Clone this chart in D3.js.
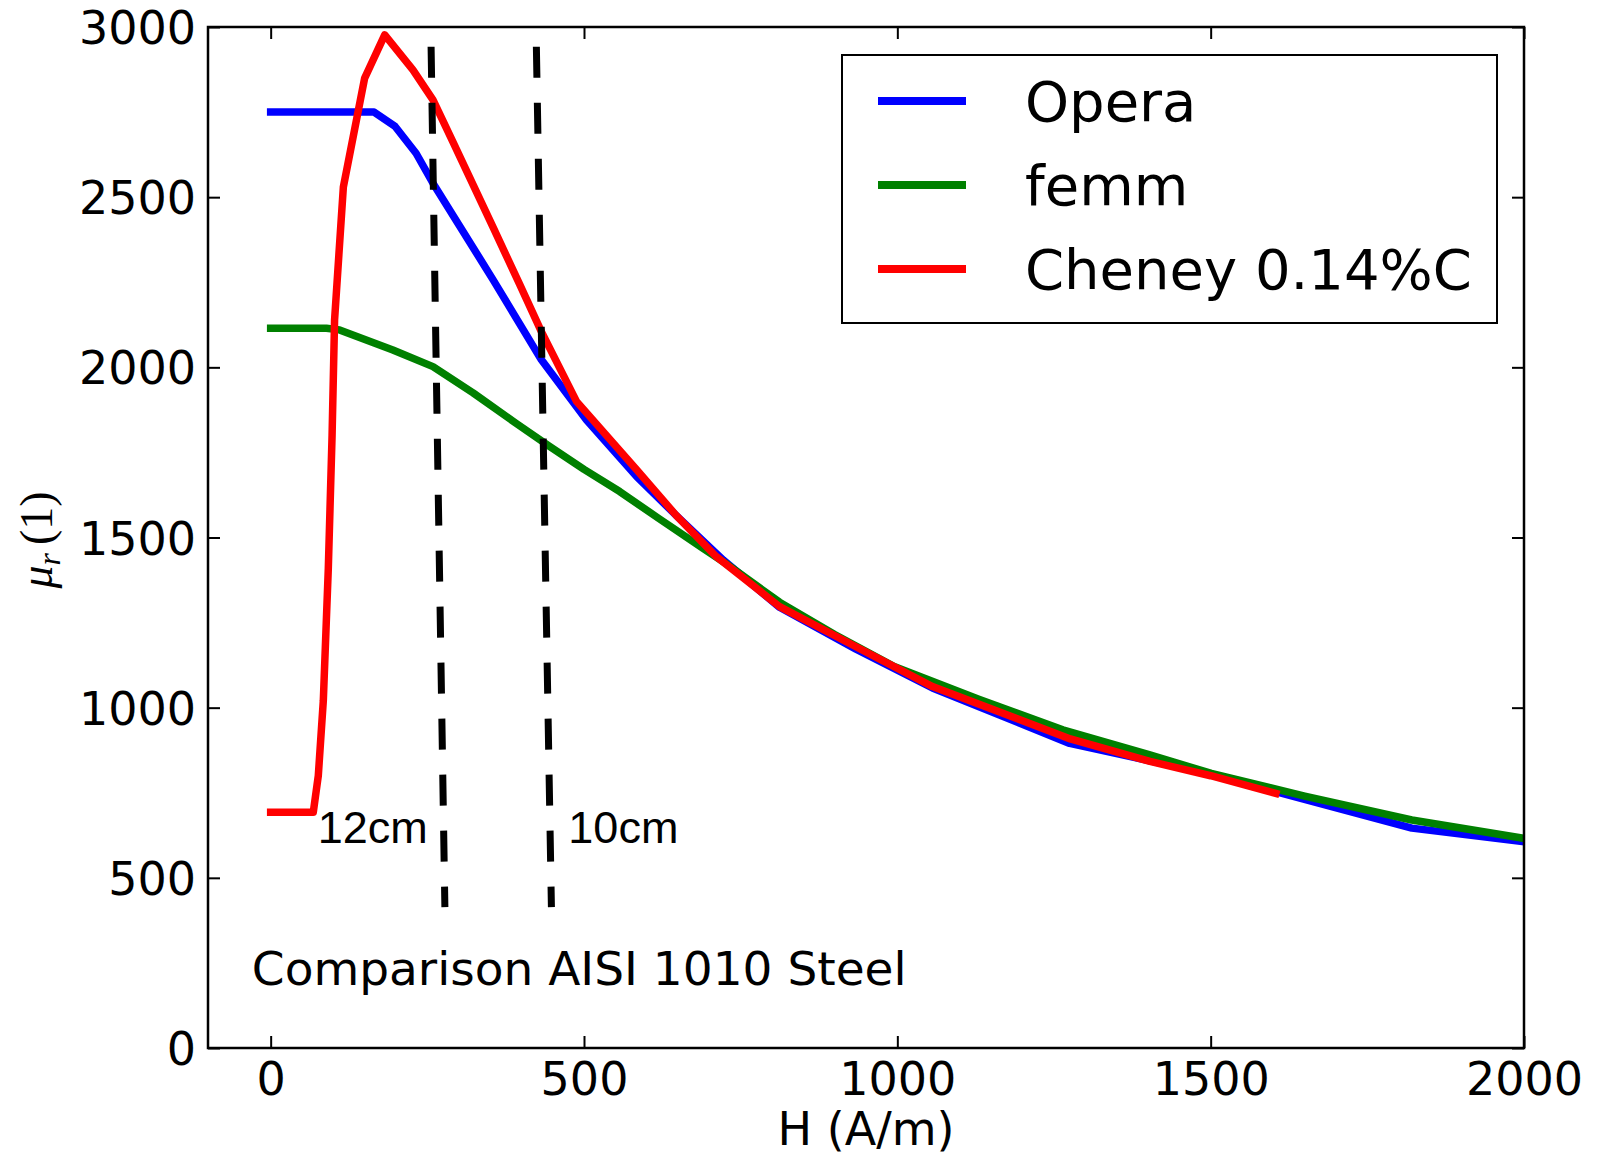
<!DOCTYPE html>
<html>
<head>
<meta charset="utf-8">
<script src="https://cdn.jsdelivr.net/npm/d3@7"></script>
<style>
  body { margin: 0; background: #fff; }
  text { font-family: "DejaVu Sans", sans-serif; fill: #000; }
</style>
</head>
<body>
<svg></svg>
<script>
// series
const operaH  = [0, 165, 198, 232, 259, 300, 355, 432, 504, 584, 647, 722, 812, 934, 1056, 1275, 1500, 1821, 2000];
const operaMu = [2750, 2750, 2709, 2629, 2541, 2420, 2257, 2022, 1845, 1679, 1565, 1434, 1295, 1172, 1058, 895, 805, 646, 606];

const femmH  = [0, 89, 110, 195, 259, 323, 392, 445, 500, 557, 620, 690, 726, 812, 900, 995, 1130, 1264, 1403, 1501, 1650, 1821, 2000];
const femmMu = [2115, 2115, 2110, 2051, 2002, 1925, 1835, 1768, 1700, 1635, 1555, 1468, 1424, 1310, 1215, 1121, 1025, 935, 861, 807, 740, 670, 616];

const cheneyH  = [0, 68, 76, 84, 92, 98, 102, 116, 150, 182, 227, 259, 291, 355, 397, 432, 488, 584, 647, 711, 812, 934, 1056, 1276, 1403, 1500, 1604];
const cheneyMu = [693, 693, 800, 1020, 1410, 1800, 2140, 2530, 2850, 2977, 2874, 2786, 2662, 2411, 2245, 2105, 1900, 1699, 1565, 1444, 1297, 1179, 1062, 908, 842, 800, 748];

const seriesNames  = ['Opera', 'femm', 'Cheney 0.14%C'];
const seriesColors = ['#0000ff', '#008000', '#ff0000'];

// dashed marker lines (top and bottom H), shared mu ends
const markerNames = ['12cm', '10cm'];
const markerH  = [[256, 278], [424, 448]];
const markerMu = [2942, 414];
const markerLabelH  = [75, 475];
const markerLabelMu = 602;

const xTicks = [0, 500, 1000, 1500, 2000];
const yTicks = [0, 500, 1000, 1500, 2000, 2500, 3000];

const width = 1598;
const height = 1156;
const margin = {top: 27, right: 74, bottom: 108, left: 208};
const w = width - margin.left - margin.right;
const h = height - margin.top - margin.bottom;

const svg = d3.select('svg').attr('width', width).attr('height', height);

const x = d3.scaleLinear().domain([-100, 2000]).range([0, w]);
const y = d3.scaleLinear().domain([0, 3000]).range([h, 0]);

const g = svg.append('g').attr('transform', 'translate(' + margin.left + ',' + margin.top + ')');

g.append('clipPath').attr('id', 'plot')
  .append('rect').attr('width', w).attr('height', h);

const zip = (hs, ms) => hs.map((v, i) => [v, ms[i]]);
const series = [zip(operaH, operaMu), zip(femmH, femmMu), zip(cheneyH, cheneyMu)];

const line = d3.line().x(d => x(d[0])).y(d => y(d[1]));

const plot = g.append('g').attr('clip-path', 'url(#plot)');

plot.selectAll('.curve')
  .data(series)
  .enter()
  .append('path')
  .attr('class', 'curve')
  .attr('d', line)
  .attr('fill', 'none')
  .attr('stroke', (d, i) => seriesColors[i])
  .attr('stroke-width', 7.5)
  .attr('stroke-linejoin', 'round')
  .attr('stroke-linecap', 'square');

plot.selectAll('.marker')
  .data(markerH)
  .enter()
  .append('path')
  .attr('class', 'marker')
  .attr('d', d => line([[d[0], markerMu[0]], [d[1], markerMu[1]]]))
  .attr('fill', 'none')
  .attr('stroke', '#000')
  .attr('stroke-width', 7)
  .attr('stroke-dasharray', '31,25');

g.selectAll('.mlabel')
  .data(markerNames)
  .enter()
  .append('text')
  .attr('class', 'mlabel')
  .attr('x', (d, i) => x(markerLabelH[i]))
  .attr('y', y(markerLabelMu))
  .style('font-family', '"Liberation Sans", Arial, sans-serif')
  .style('font-size', '45px')
  .text(d => d);

g.append('text')
  .attr('x', x(-30))
  .attr('y', y(185))
  .style('font-size', '47px')
  .text('Comparison AISI 1010 Steel');

// axes: ticks point inward on all four sides
const tick = 12;
const fmt = d3.format('d');
const gx = g.append('g').attr('transform', 'translate(0,' + h + ')')
  .call(d3.axisBottom(x).tickValues(xTicks).tickFormat(fmt).tickSizeInner(-tick).tickSizeOuter(0).tickPadding(14));
const gy = g.append('g')
  .call(d3.axisLeft(y).tickValues(yTicks).tickFormat(fmt).tickSizeInner(-tick).tickSizeOuter(0).tickPadding(12));
const gt = g.append('g')
  .call(d3.axisTop(x).tickValues(xTicks).tickSizeInner(-tick).tickSizeOuter(0).tickFormat(''));
const gr = g.append('g').attr('transform', 'translate(' + w + ',0)')
  .call(d3.axisRight(y).tickValues(yTicks).tickSizeInner(-tick).tickSizeOuter(0).tickFormat(''));

[gx, gy, gt, gr].forEach(a => {
  a.select('.domain').remove();
  a.selectAll('line').attr('stroke', '#000').attr('stroke-width', 2);
  a.selectAll('text').style('font-family', '"DejaVu Sans", sans-serif').style('font-size', '46px').attr('fill', '#000');
});
gy.selectAll('text').attr('dy', '0.36em');

g.append('rect')
  .attr('width', w).attr('height', h)
  .attr('fill', 'none').attr('stroke', '#000').attr('stroke-width', 2.5);

// axis labels
svg.append('text')
  .attr('x', margin.left + w / 2)
  .attr('y', 1145)
  .attr('text-anchor', 'middle')
  .style('font-size', '46px')
  .text('H (A/m)');

const yl = svg.append('text')
  .attr('transform', 'translate(52,540) rotate(-90)')
  .attr('text-anchor', 'middle')
  .style('font-family', '"Liberation Serif", "DejaVu Serif", serif')
  .style('font-size', '46px');
yl.append('tspan').style('font-style', 'italic').text('μ');
yl.append('tspan').style('font-style', 'italic').style('font-size', '32px').attr('dy', 8).text('r');
yl.append('tspan').attr('dy', -8).attr('dx', 8).text('(1)');

// legend
const legend = svg.append('g').attr('transform', 'translate(842,55)');
legend.append('rect')
  .attr('width', 655).attr('height', 268)
  .attr('fill', '#fff').attr('stroke', '#000').attr('stroke-width', 2);

const rows = legend.selectAll('.row')
  .data(seriesNames)
  .enter()
  .append('g')
  .attr('class', 'row')
  .attr('transform', (d, i) => 'translate(0,' + (46 + i * 84) + ')');

rows.append('line')
  .attr('x1', 36).attr('x2', 124)
  .attr('stroke', (d, i) => seriesColors[i])
  .attr('stroke-width', 8);

rows.append('text')
  .attr('x', 183)
  .attr('y', 20)
  .style('font-size', '56px')
  .text(d => d);
</script>
</body>
</html>
